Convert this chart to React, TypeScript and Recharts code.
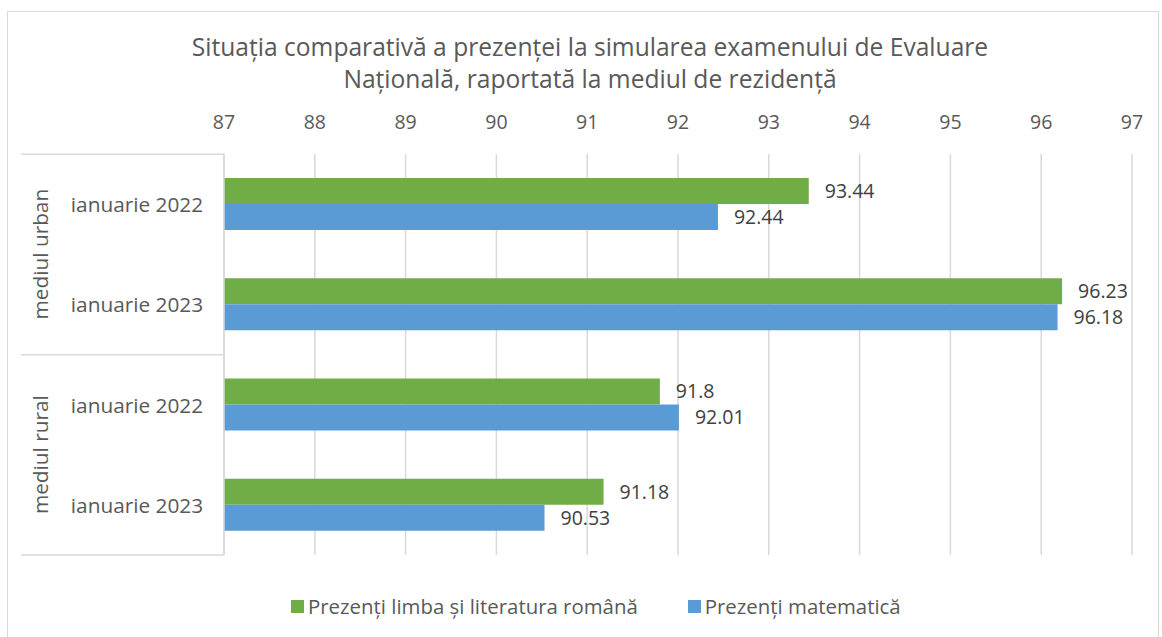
import React from "react";
import {
  BarChart,
  Bar,
  XAxis,
  YAxis,
  CartesianGrid,
  LabelList,
} from "recharts";

const groups = ["mediul urban", "mediul urban", "mediul rural", "mediul rural"];
const periods = ["ianuarie 2022", "ianuarie 2023", "ianuarie 2022", "ianuarie 2023"];
const romana = [93.44, 96.23, 91.8, 91.18];
const matematica = [92.44, 96.18, 92.01, 90.53];
const xTicks = [87, 88, 89, 90, 91, 92, 93, 94, 95, 96, 97];

const series = [
  { key: "romana", name: "Prezenți limba și literatura română", color: "#70AD47" },
  { key: "matematica", name: "Prezenți matematică", color: "#5B9BD5" },
];

const data = periods.map((p, i) => ({
  id: String(i),
  period: p,
  group: groups[i],
  romana: romana[i],
  matematica: matematica[i],
}));

const FONT = "'Open Sans', Lato, sans-serif";
const TEXT = "#595959";
const GRID = "#D9D9D9";

const CategoryTick = ({ y, index }: any) => {
  const half = 50;
  const showGroup = index % 2 === 0;
  return (
    <g>
      <text
        x={137}
        y={y}
        textAnchor="middle"
        dominantBaseline="central"
        fontSize={20.8}
        fill={TEXT}
        fontFamily={FONT}
      >
        {periods[index]}
      </text>
      {showGroup && (
        <>
          <line x1={21} x2={224} y1={y - half} y2={y - half} stroke={GRID} strokeWidth={1.5} />
          <text
            x={40}
            y={y + half}
            transform={`rotate(-90 40 ${y + half})`}
            textAnchor="middle"
            dominantBaseline="central"
            fontSize={20.8}
            fill={TEXT}
            fontFamily={FONT}
          >
            {groups[index]}
          </text>
        </>
      )}
      {index === periods.length - 1 && (
        <line x1={21} x2={224} y1={y + half} y2={y + half} stroke={GRID} strokeWidth={1.5} />
      )}
    </g>
  );
};

export default function App() {
  return (
    <div
      style={{
        position: "absolute",
        left: 0,
        top: 0,
        width: 1162,
        height: 637,
        background: "white",
        fontFamily: FONT,
        overflow: "hidden",
      }}
    >
      <div
        style={{
          position: "absolute",
          left: 7,
          top: 11,
          width: 1152,
          height: 640,
          border: "1.5px solid #D9D9D9",
          boxSizing: "border-box",
        }}
      />
      <div
        style={{
          position: "absolute",
          left: 0,
          top: 31,
          width: 1180,
          textAlign: "center",
          fontSize: 24.6,
          lineHeight: "32px",
          color: TEXT,
        }}
      >
        Situația comparativă a prezenței la simularea examenului de Evaluare
        <br />
        Națională, raportată la mediul de rezidență
      </div>
      <div style={{ position: "absolute", left: 0, top: 0 }}>
        <BarChart
          width={1162}
          height={637}
          data={data}
          layout="vertical"
          margin={{ top: 124, right: 30, bottom: 82, left: 21 }}
          barGap={0}
          barSize={26}
        >
          <CartesianGrid horizontal={false} stroke={GRID} strokeWidth={1.5} />
          <XAxis
            type="number"
            orientation="top"
            domain={[87, 97]}
            ticks={xTicks}
            axisLine={false}
            tickLine={false}
            tickMargin={19}
            tick={{ fontSize: 19.5, fill: TEXT, fontFamily: FONT }}
            interval={0}
          />
          <YAxis
            type="category"
            dataKey="id"
            width={203}
            axisLine={{ stroke: GRID, strokeWidth: 1.5 }}
            tickLine={false}
            tick={<CategoryTick />}
            interval={0}
          />
          {series.map((s) => (
            <Bar key={s.key} dataKey={s.key} name={s.name} fill={s.color} isAnimationActive={false}>
              <LabelList
                dataKey={s.key}
                position="right"
                offset={16}
                fontSize={19.5}
                fill="#404040"
                fontFamily={FONT}
              />
            </Bar>
          ))}
        </BarChart>
      </div>
      <div
        style={{
          position: "absolute",
          left: 291,
          top: 592,
          display: "flex",
          alignItems: "center",
          fontSize: 20.4,
          color: TEXT,
          whiteSpace: "nowrap",
        }}
      >
        {series.map((s, i) => (
          <div
            key={s.key}
            style={{ display: "flex", alignItems: "center", gap: 4, marginRight: i === 0 ? 50 : 0 }}
          >
            <span style={{ width: 13, height: 13, background: s.color, display: "inline-block" }} />
            <span>{s.name}</span>
          </div>
        ))}
      </div>
    </div>
  );
}
